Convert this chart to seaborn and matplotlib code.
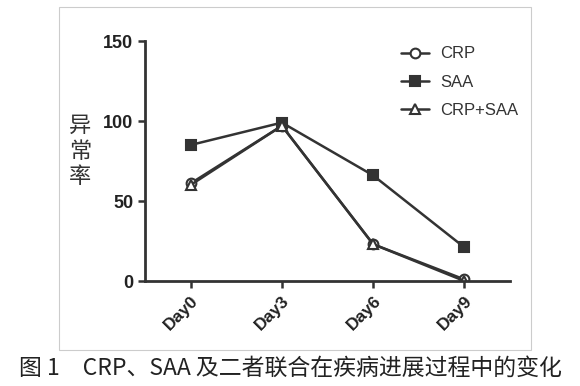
import matplotlib
matplotlib.use('Agg')
import matplotlib.pyplot as plt
import seaborn as sns
from matplotlib.patches import Rectangle

days = ['Day0', 'Day3', 'Day6', 'Day9']
crp = [61, 97, 23, 1]
saa = [85, 99, 66, 21]
crp_saa = [60, 97, 23, 0]
y_ticks = [0, 50, 100, 150]

sns.set_style('white')
plt.rcParams['font.family'] = ['Liberation Sans', 'Noto Sans CJK SC', 'DejaVu Sans']

fig = plt.figure(figsize=(5.8, 3.86), dpi=100)
ax = fig.add_axes([145 / 580, 1 - 281 / 386, 365 / 580, 240 / 386])

line_col = '#333333'
series = [
    ('CRP', crp, 'o', 'white'),
    ('SAA', saa, 's', line_col),
    ('CRP+SAA', crp_saa, '^', 'white'),
]
for name, vals, mk, fc in series:
    sns.lineplot(x=days, y=vals, ax=ax, color=line_col, lw=1.8, marker=mk,
                 markersize=7, markerfacecolor=fc, markeredgecolor=line_col,
                 markeredgewidth=1.5, label=name, sort=False)

ax.set_xlim(-0.5, 3.5)
ax.set_ylim(0, 150)
ax.set_yticks(y_ticks)
ax.set_xlabel('')
ax.set_ylabel('')
for s in ['top', 'right']:
    ax.spines[s].set_visible(False)
for s in ['left', 'bottom']:
    ax.spines[s].set_linewidth(2)
    ax.spines[s].set_color(line_col)
ax.tick_params(axis='both', direction='out', length=5, width=1.8, color=line_col,
               left=True, bottom=True)
for lab in ax.get_yticklabels():
    lab.set_fontweight('bold')
    lab.set_fontsize(13)
    lab.set_color('#222222')
for lab in ax.get_xticklabels():
    lab.set_fontweight('bold')
    lab.set_fontsize(12.5)
    lab.set_rotation(45)
    lab.set_ha('right')
    lab.set_rotation_mode('anchor')
    lab.set_color('#222222')

leg = ax.legend(loc='upper right', bbox_to_anchor=(1.065, 1.04), frameon=False,
                fontsize=12, handlelength=1.7, handletextpad=0.7, labelspacing=0.8)
for t in leg.get_texts():
    t.set_color('#333333')

fig.text(80 / 580, 1 - 151 / 386, '异\n常\n率', ha='center', va='center',
         fontsize=16, family=['Noto Sans CJK SC'], color='#333333', linespacing=1.15)

fig.patches.append(Rectangle((59 / 580, 1 - 350 / 386), 472 / 580, 343 / 386,
                             transform=fig.transFigure, fill=False,
                             edgecolor='#cccccc', lw=0.8))

fig.text(290 / 580, 1 - 368 / 386, '图 1　CRP、SAA 及二者联合在疾病进展过程中的变化',
         ha='center', va='center', fontsize=16.5, family=['Noto Sans CJK SC', 'DejaVu Sans'],
         color='#222222')

fig.savefig('out.png', dpi=100)
